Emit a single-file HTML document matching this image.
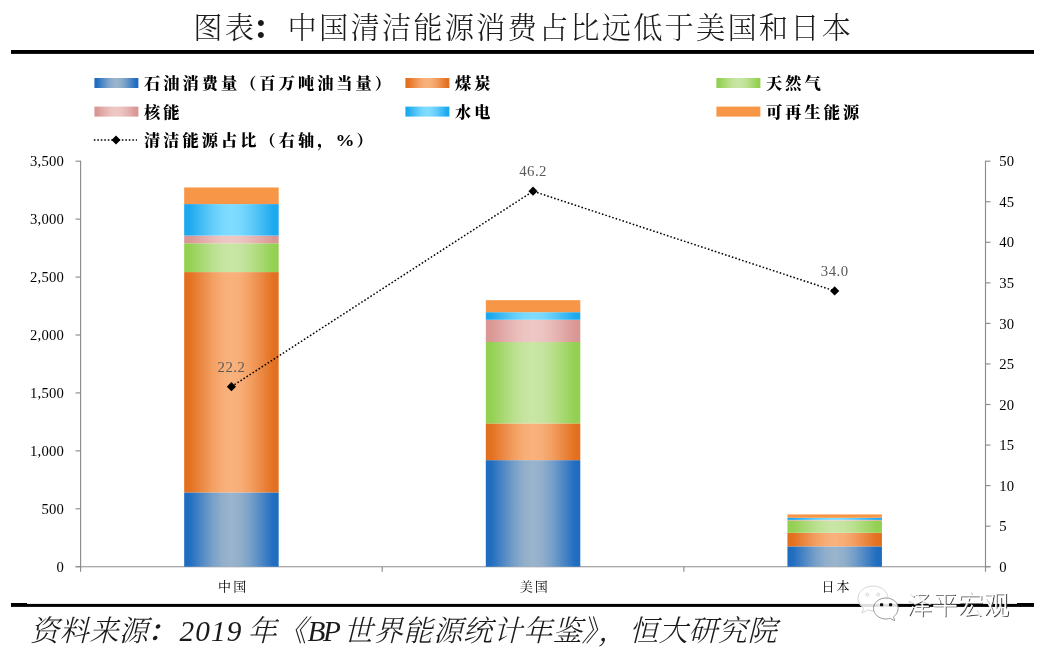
<!DOCTYPE html>
<html lang="zh"><head><meta charset="utf-8"><title>图表</title>
<style>
html,body{margin:0;padding:0;background:#fff;}
body{width:1043px;height:651px;overflow:hidden;position:relative;font-family:"Liberation Serif","Noto Serif CJK SC",serif;}
svg{position:absolute;left:0;top:0;display:block}
.title{font-family:"Liberation Serif","Noto Serif CJK SC",serif;font-weight:300;font-size:29.3px;letter-spacing:2.12px;fill:#1a1a1a}
.leg{font-family:"Liberation Serif","Noto Serif CJK SC",serif;font-weight:900;font-size:16.2px;letter-spacing:3.05px;fill:#000}
.ax{font-family:"Liberation Serif",serif;font-size:14.67px;letter-spacing:0.25px;fill:#000}
.dl{font-family:"Liberation Serif",serif;font-size:14.8px;letter-spacing:0.45px;fill:#595959}
.cat{font-family:"Liberation Serif","Noto Serif CJK SC",serif;font-size:13px;letter-spacing:2.1px;fill:#000}
.src{font-family:"Liberation Serif","Noto Serif CJK SC",serif;font-weight:300;font-style:italic;font-size:29.3px;letter-spacing:0.3px;fill:#1a1a1a}
.wm{font-family:"Liberation Sans","Noto Sans CJK SC",sans-serif;font-size:25.6px;font-weight:300}
</style></head><body>
<svg width="1043" height="651" viewBox="0 0 1043 651">
<defs>
<linearGradient id="gOil" x1="0" x2="1" y1="0" y2="0"><stop offset="0" stop-color="#1e6cc0"/><stop offset="0.06" stop-color="#226ec0"/><stop offset="0.18" stop-color="#4d87c5"/><stop offset="0.3" stop-color="#77a0c9"/><stop offset="0.4" stop-color="#90aecb"/><stop offset="0.5" stop-color="#9ab4cc"/><stop offset="0.6" stop-color="#90aecb"/><stop offset="0.7" stop-color="#77a0c9"/><stop offset="0.82" stop-color="#4d87c5"/><stop offset="0.94" stop-color="#226ec0"/><stop offset="1" stop-color="#1e6cc0"/></linearGradient>
<linearGradient id="gCoal" x1="0" x2="1" y1="0" y2="0"><stop offset="0" stop-color="#e26f1e"/><stop offset="0.06" stop-color="#e37121"/><stop offset="0.18" stop-color="#eb8842"/><stop offset="0.3" stop-color="#f39f62"/><stop offset="0.4" stop-color="#f7ad75"/><stop offset="0.5" stop-color="#f9b27d"/><stop offset="0.6" stop-color="#f7ad75"/><stop offset="0.7" stop-color="#f39f62"/><stop offset="0.82" stop-color="#eb8842"/><stop offset="0.94" stop-color="#e37121"/><stop offset="1" stop-color="#e26f1e"/></linearGradient>
<linearGradient id="gGas" x1="0" x2="1" y1="0" y2="0"><stop offset="0" stop-color="#92d050"/><stop offset="0.06" stop-color="#94d153"/><stop offset="0.18" stop-color="#a7d871"/><stop offset="0.3" stop-color="#bae08e"/><stop offset="0.4" stop-color="#c5e49f"/><stop offset="0.5" stop-color="#c9e6a6"/><stop offset="0.6" stop-color="#c5e49f"/><stop offset="0.7" stop-color="#bae08e"/><stop offset="0.82" stop-color="#a7d871"/><stop offset="0.94" stop-color="#94d153"/><stop offset="1" stop-color="#92d050"/></linearGradient>
<linearGradient id="gNuc" x1="0" x2="1" y1="0" y2="0"><stop offset="0" stop-color="#d99694"/><stop offset="0.06" stop-color="#da9895"/><stop offset="0.18" stop-color="#e1a9a7"/><stop offset="0.3" stop-color="#e8bab7"/><stop offset="0.4" stop-color="#ecc4c1"/><stop offset="0.5" stop-color="#eec8c5"/><stop offset="0.6" stop-color="#ecc4c1"/><stop offset="0.7" stop-color="#e8bab7"/><stop offset="0.82" stop-color="#e1a9a7"/><stop offset="0.94" stop-color="#da9895"/><stop offset="1" stop-color="#d99694"/></linearGradient>
<linearGradient id="gHyd" x1="0" x2="1" y1="0" y2="0"><stop offset="0" stop-color="#1ca8ee"/><stop offset="0.06" stop-color="#1faaef"/><stop offset="0.18" stop-color="#42bcf4"/><stop offset="0.3" stop-color="#63cdfa"/><stop offset="0.4" stop-color="#77d8fe"/><stop offset="0.5" stop-color="#7fdcff"/><stop offset="0.6" stop-color="#77d8fe"/><stop offset="0.7" stop-color="#63cdfa"/><stop offset="0.82" stop-color="#42bcf4"/><stop offset="0.94" stop-color="#1faaef"/><stop offset="1" stop-color="#1ca8ee"/></linearGradient>
<linearGradient id="gRen" x1="0" x2="1" y1="0" y2="0"><stop offset="0" stop-color="#f79646"/><stop offset="1" stop-color="#f79646"/></linearGradient>
</defs>
<rect width="1043" height="651" fill="#fff"/>

<text class="title" x="193.3" y="38.4">图表<tspan dx="-3.6" font-weight="900">：</tspan><tspan dx="3.6">中国清洁能源消费占比远低于美国和日本</tspan></text>
<rect x="11" y="50" width="1023" height="3.9" fill="#000"/>
<rect x="94.4" y="78" width="44" height="10" fill="url(#gOil)"/>
<text class="leg" x="144" y="89.4">石油消费量（百万吨油当量）</text>
<rect x="405.4" y="78" width="44" height="10" fill="url(#gCoal)"/>
<text class="leg" x="455" y="89.4">煤炭</text>
<rect x="716.4" y="78" width="44" height="10" fill="url(#gGas)"/>
<text class="leg" x="766" y="89.4">天然气</text>
<rect x="94.4" y="106.6" width="44" height="10" fill="url(#gNuc)"/>
<text class="leg" x="144" y="118.0">核能</text>
<rect x="405.4" y="106.6" width="44" height="10" fill="url(#gHyd)"/>
<text class="leg" x="455" y="118.0">水电</text>
<rect x="716.4" y="106.6" width="44" height="10" fill="url(#gRen)"/>
<text class="leg" x="766" y="118.0">可再生能源</text>
<line x1="93.8" x2="137" y1="140" y2="140" stroke="#000" stroke-width="1.4" stroke-dasharray="1.6 1.9"/>
<path d="M116 135.5L120.5 140L116 144.5L111.5 140Z" fill="#000"/>
<text class="leg" x="144" y="146.4">清洁能源占比（右轴，<tspan x="335.5" font-size="17.6" letter-spacing="0" textLength="19" lengthAdjust="spacingAndGlyphs">%</tspan><tspan x="356.5">）</tspan></text>
<g stroke="#8c8c8c" stroke-width="1.15" fill="none">
<line x1="80.6" x2="80.6" y1="160.7" y2="567.4000000000001"/>
<line x1="985.5" x2="985.5" y1="160.7" y2="567.4000000000001"/>
<line x1="75.6" x2="990.5" y1="566.7" y2="566.7"/>
<line x1="75.6" x2="80.6" y1="566.70" y2="566.70"/>
<line x1="75.6" x2="80.6" y1="508.77" y2="508.77"/>
<line x1="75.6" x2="80.6" y1="450.84" y2="450.84"/>
<line x1="75.6" x2="80.6" y1="392.91" y2="392.91"/>
<line x1="75.6" x2="80.6" y1="334.99" y2="334.99"/>
<line x1="75.6" x2="80.6" y1="277.06" y2="277.06"/>
<line x1="75.6" x2="80.6" y1="219.13" y2="219.13"/>
<line x1="75.6" x2="80.6" y1="161.20" y2="161.20"/>
<line x1="985.5" x2="990.5" y1="566.70" y2="566.70"/>
<line x1="985.5" x2="990.5" y1="526.15" y2="526.15"/>
<line x1="985.5" x2="990.5" y1="485.60" y2="485.60"/>
<line x1="985.5" x2="990.5" y1="445.05" y2="445.05"/>
<line x1="985.5" x2="990.5" y1="404.50" y2="404.50"/>
<line x1="985.5" x2="990.5" y1="363.95" y2="363.95"/>
<line x1="985.5" x2="990.5" y1="323.40" y2="323.40"/>
<line x1="985.5" x2="990.5" y1="282.85" y2="282.85"/>
<line x1="985.5" x2="990.5" y1="242.30" y2="242.30"/>
<line x1="985.5" x2="990.5" y1="201.75" y2="201.75"/>
<line x1="985.5" x2="990.5" y1="161.20" y2="161.20"/>
<line x1="80.60" x2="80.60" y1="566.7" y2="571.7"/>
<line x1="382.23" x2="382.23" y1="566.7" y2="571.7"/>
<line x1="683.87" x2="683.87" y1="566.7" y2="571.7"/>
<line x1="985.50" x2="985.50" y1="566.7" y2="571.7"/>
</g>
<text class="ax" text-anchor="end" x="64.2" y="571.80">0</text>
<text class="ax" text-anchor="end" x="64.2" y="513.87">500</text>
<text class="ax" text-anchor="end" x="64.2" y="455.94">1,000</text>
<text class="ax" text-anchor="end" x="64.2" y="398.01">1,500</text>
<text class="ax" text-anchor="end" x="64.2" y="340.09">2,000</text>
<text class="ax" text-anchor="end" x="64.2" y="282.16">2,500</text>
<text class="ax" text-anchor="end" x="64.2" y="224.23">3,000</text>
<text class="ax" text-anchor="end" x="64.2" y="166.30">3,500</text>
<text class="ax" x="999.2" y="571.80">0</text>
<text class="ax" x="999.2" y="531.25">5</text>
<text class="ax" x="999.2" y="490.70">10</text>
<text class="ax" x="999.2" y="450.15">15</text>
<text class="ax" x="999.2" y="409.60">20</text>
<text class="ax" x="999.2" y="369.05">25</text>
<text class="ax" x="999.2" y="328.50">30</text>
<text class="ax" x="999.2" y="287.95">35</text>
<text class="ax" x="999.2" y="247.40">40</text>
<text class="ax" x="999.2" y="206.85">45</text>
<text class="ax" x="999.2" y="166.30">50</text>
<rect x="184.17" y="492.41" width="94.5" height="74.29" fill="url(#gOil)"/>
<rect x="184.17" y="272.09" width="94.5" height="220.33" fill="url(#gCoal)"/>
<rect x="184.17" y="243.32" width="94.5" height="28.77" fill="url(#gGas)"/>
<rect x="184.17" y="235.60" width="94.5" height="7.72" fill="url(#gNuc)"/>
<rect x="184.17" y="204.08" width="94.5" height="31.52" fill="url(#gHyd)"/>
<rect x="184.17" y="187.45" width="94.5" height="16.63" fill="url(#gRen)"/>
<text class="cat" text-anchor="middle" x="233.22" y="591.1">中国</text>
<rect x="485.80" y="460.15" width="94.5" height="106.55" fill="url(#gOil)"/>
<rect x="485.80" y="423.42" width="94.5" height="36.73" fill="url(#gCoal)"/>
<rect x="485.80" y="342.02" width="94.5" height="81.40" fill="url(#gGas)"/>
<rect x="485.80" y="319.75" width="94.5" height="22.27" fill="url(#gNuc)"/>
<rect x="485.80" y="312.19" width="94.5" height="7.57" fill="url(#gHyd)"/>
<rect x="485.80" y="300.16" width="94.5" height="12.03" fill="url(#gRen)"/>
<text class="cat" text-anchor="middle" x="534.85" y="591.1">美国</text>
<rect x="787.43" y="546.37" width="94.5" height="20.33" fill="url(#gOil)"/>
<rect x="787.43" y="532.75" width="94.5" height="13.61" fill="url(#gCoal)"/>
<rect x="787.43" y="520.59" width="94.5" height="12.17" fill="url(#gGas)"/>
<rect x="787.43" y="519.89" width="94.5" height="0.70" fill="url(#gNuc)"/>
<rect x="787.43" y="517.77" width="94.5" height="2.12" fill="url(#gHyd)"/>
<rect x="787.43" y="514.41" width="94.5" height="3.36" fill="url(#gRen)"/>
<text class="cat" text-anchor="middle" x="836.48" y="591.1">日本</text>
<polyline fill="none" stroke="#000" stroke-width="1.5" stroke-dasharray="1.6 2.0" points="231.42,386.66 533.05,191.21 834.68,290.96"/>
<path d="M231.42 382.06L236.02 386.66L231.42 391.26L226.82 386.66Z" fill="#000"/>
<text class="dl" text-anchor="middle" x="231.42" y="371.66">22.2</text>
<path d="M533.05 186.61L537.65 191.21L533.05 195.81L528.45 191.21Z" fill="#000"/>
<text class="dl" text-anchor="middle" x="533.05" y="176.21">46.2</text>
<path d="M834.68 286.36L839.28 290.96L834.68 295.56L830.08 290.96Z" fill="#000"/>
<text class="dl" text-anchor="middle" x="834.68" y="275.96">34.0</text>
<rect x="11" y="603.9" width="1023" height="3" fill="#000"/><rect x="11" y="603" width="16" height="2" fill="#000"/><rect x="1017" y="603" width="17" height="2" fill="#000"/>
<text class="src" y="640.7"><tspan x="30">资料来源<tspan dx="-1.5" font-weight="600">：</tspan></tspan><tspan x="179.5" letter-spacing="1.1">2019</tspan><tspan x="247.5">年</tspan><tspan x="277.5">《</tspan><tspan x="307.5" letter-spacing="-2.5">BP</tspan><tspan x="343.5" letter-spacing="0.6">世界能源统计年鉴</tspan><tspan x="581.5">》</tspan><tspan x="598">，</tspan><tspan x="629">恒大研究院</tspan></text>
<g>
<g opacity=".87">
<path d="M873 586c-8.3 0-15 5.600-15 12.500 0 3.900 2.200 7.400 5.600 9.700l-1.600 4.800 5.600-2.900c1.700.5 3.500.8 5.400.8 8.300 0 15-5.600 15-12.500S881.300 586 873 586z" fill="#fff" stroke="#cfcfcf" stroke-width="1"/>
<path d="M886 598c-6.900 0-12.500 4.700-12.500 10.500S879.100 619 886 619c1.500 0 2.900-.2 4.200-.6l4.600 2.400-1.300-4c2.800-1.900 4.600-4.900 4.600-8.300C898.500 602.700 892.900 598 886 598z" fill="#fff" stroke="#8a8a8a" stroke-width="1"/>
<circle cx="867.300" cy="594.600" r="1.400" fill="#fff" stroke="#bdbdbd" stroke-width=".8"/>
<circle cx="878.300" cy="594.600" r="1.400" fill="#fff" stroke="#bdbdbd" stroke-width=".8"/>
</g>
<rect x="880" y="603.200" width="3.200" height="3" rx=".8" fill="#0a0a0a"/>
<rect x="889" y="603.200" width="3.200" height="3" rx=".8" fill="#0a0a0a"/>
<text class="wm" x="907.600" y="614.900" fill="#4a4a4a">泽平宏观</text>
<text class="wm" x="906.500" y="613.900" fill="#fff" stroke="#fff" stroke-width=".35">泽平宏观</text>
</g>
</svg></body></html>
